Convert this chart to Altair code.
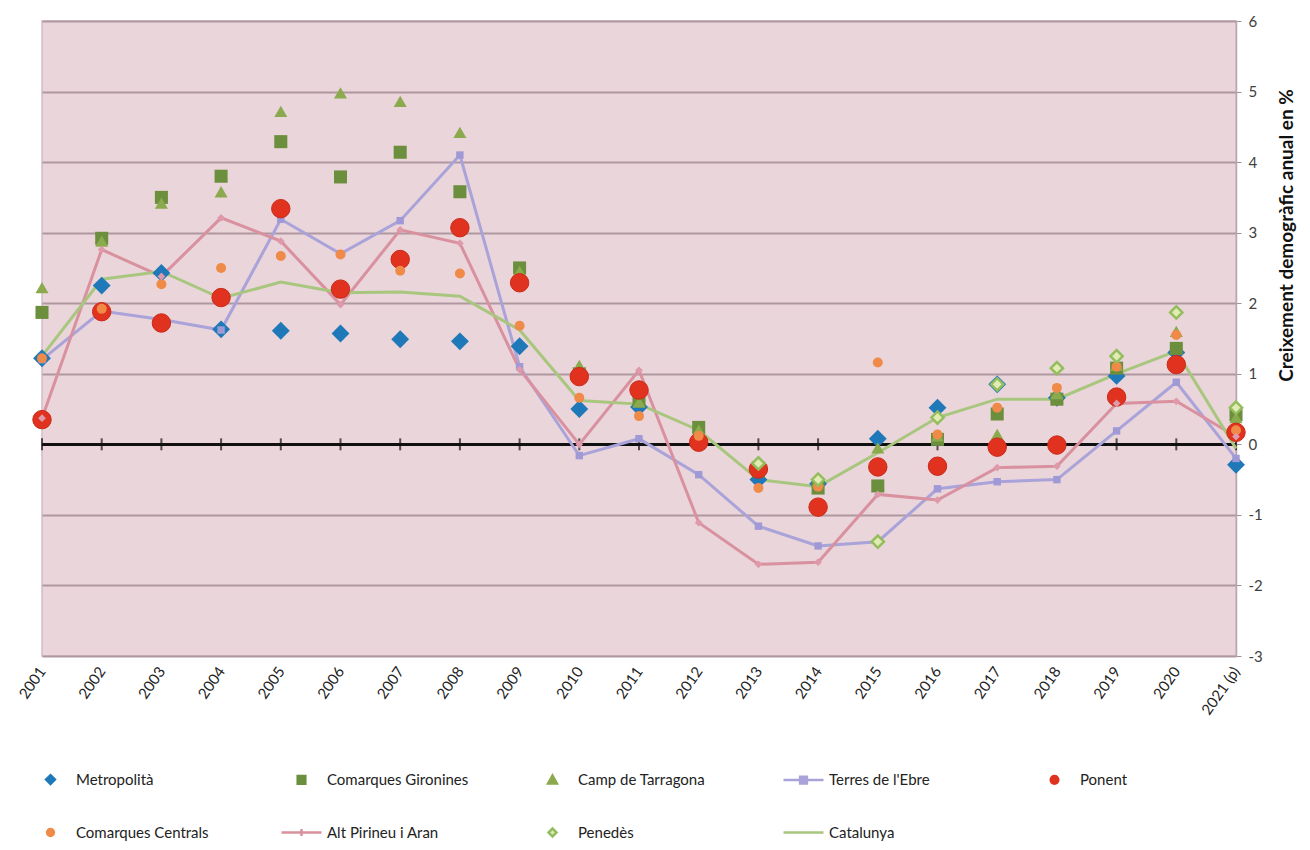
import altair as alt
import pandas as pd

years = ["2001", "2002", "2003", "2004", "2005", "2006", "2007", "2008", "2009", "2010",
         "2011", "2012", "2013", "2014", "2015", "2016", "2017", "2018", "2019", "2020", "2021 (p)"]

series_names = ["Metropolità", "Comarques Gironines", "Camp de Tarragona", "Terres de l'Ebre",
                "Ponent", "Comarques Centrals", "Alt Pirineu i Aran", "Penedès", "Catalunya"]

metropolita = [1.22, 2.25, 2.43, 1.63, 1.61, 1.57, 1.49, 1.46, 1.39, 0.50, 0.53, 0.05, -0.50, -0.56, 0.08, 0.52, 0.85, 0.66, 0.97, 1.30, -0.29]
gironines = [1.87, 2.92, 3.50, 3.80, 4.29, 3.79, 4.14, 3.58, 2.50, 1.00, 0.62, 0.24, -0.38, -0.62, -0.59, 0.07, 0.43, 0.64, 1.08, 1.36, 0.42]
camp = [2.22, 2.88, 3.42, 3.58, 4.72, 4.98, 4.86, 4.42, 2.45, 1.12, 0.60, 0.20, -0.28, -0.52, -0.05, 0.12, 0.14, 0.72, 1.12, 1.60, 0.38]
terres = [1.20, 1.89, 1.77, 1.62, 3.19, 2.70, 3.17, 4.10, 1.10, -0.16, 0.08, -0.43, -1.16, -1.44, -1.38, -0.63, -0.53, -0.50, 0.19, 0.88, -0.20]
ponent = [0.35, 1.88, 1.72, 2.08, 3.34, 2.20, 2.62, 3.07, 2.29, 0.96, 0.77, 0.03, -0.35, -0.89, -0.32, -0.31, -0.04, -0.01, 0.67, 1.13, 0.17]
centrals = [1.22, 1.92, 2.27, 2.50, 2.67, 2.69, 2.46, 2.42, 1.68, 0.66, 0.40, 0.12, -0.62, -0.60, 1.16, 0.14, 0.52, 0.80, 1.10, 1.55, 0.20]
altpirineu = [0.37, 2.76, 2.38, 3.21, 2.88, 1.98, 3.04, 2.85, 1.06, 0.00, 1.05, -1.11, -1.70, -1.67, -0.71, -0.79, -0.33, -0.31, 0.58, 0.61, 0.11]
penedes = [None, None, None, None, None, None, None, None, None, None, None, None,
           -0.27, -0.50, -1.38, 0.38, 0.85, 1.08, 1.25, 1.87, 0.52]
catalunya = [1.25, 2.34, 2.45, 2.07, 2.30, 2.15, 2.16, 2.10, 1.62, 0.62, 0.57, 0.20, -0.50, -0.60, -0.12, 0.38, 0.64, 0.64, 1.00, 1.32, -0.06]

y_ticks = [-3, -2, -1, 0, 1, 2, 3, 4, 5, 6]

all_values = [metropolita, gironines, camp, terres, ponent, centrals, altpirineu, penedes, catalunya]

rows = []
for name, vals in zip(series_names, all_values):
    for yr, v in zip(years, vals):
        rows.append({"year": yr, "series": name, "value": v})
df = pd.DataFrame(rows)
df_years = pd.DataFrame({"year": years})

FONT = "Lato"

# colours
C_METRO = "#1F78B8"
C_GIR = "#6B8F3C"
C_CAMP = "#8BAA4E"
C_TERRES = "#A9A3D9"
C_PONENT = "#E0321F"
C_CENTR = "#EF8A48"
C_ALT = "#D9919F"
C_PEN_FILL = "#E3EBB4"
C_PEN_STROKE = "#94BE5E"
C_CAT = "#A9C67E"

x_scale = alt.Scale(type="point", domain=years, padding=0)
x_axis = alt.Axis(orient="bottom", domain=False, ticks=False, grid=False,
                  labelAngle=-55, labelAlign="right", labelBaseline="middle",
                  labelPadding=12, labelFont=FONT, labelFontSize=15,
                  labelColor="#222222", title=None)
x_enc = alt.X("year:N", scale=x_scale, axis=x_axis)

y_scale = alt.Scale(domain=[-3, 6], nice=False, zero=False)
y_axis = alt.Axis(orient="right", values=y_ticks, grid=True, gridColor="#AF97A0",
                  gridWidth=2, domainColor="#B8A7AD", domainWidth=1.5,
                  tickColor="#A09097", tickSize=5, labelPadding=7,
                  labelExpr="'' + datum.value",
                  labelFont=FONT, labelFontSize=15, labelColor="#404040",
                  title="Creixement demogràfic anual en %", titleFont=FONT,
                  titleFontSize=19, titleFontWeight="bold", titleColor="#111111",
                  titleAngle=270, titlePadding=34, titleY=214)
y_enc = alt.Y("value:Q", scale=y_scale, axis=y_axis)
y_zero = alt.Y("zero:Q", scale=y_scale, axis=y_axis)

base = alt.Chart(df)

# zero axis line with cross ticks
zero_base = alt.Chart(df_years).transform_calculate(zero="0")
zero_rule = zero_base.mark_rule(color="#111111", strokeWidth=2).encode(y=y_zero)
zero_ticks = zero_base.mark_tick(color="#111111", orient="vertical", size=12, thickness=2).encode(
    x=x_enc, y=y_zero
)


def sel(name):
    return base.transform_filter(alt.datum.series == name)


lines = [
    sel("Terres de l'Ebre").mark_line(color=C_TERRES, strokeWidth=3).encode(x=x_enc, y=y_enc),
    sel("Alt Pirineu i Aran").mark_line(color=C_ALT, strokeWidth=3).encode(x=x_enc, y=y_enc),
    sel("Catalunya").mark_line(color=C_CAT, strokeWidth=3).encode(x=x_enc, y=y_enc),
]

points = [
    sel("Metropolità").mark_point(filled=True, shape="diamond", size=320, color=C_METRO, opacity=1).encode(x=x_enc, y=y_enc),
    sel("Comarques Gironines").mark_point(filled=True, shape="square", size=170, color=C_GIR, opacity=1).encode(x=x_enc, y=y_enc),
    sel("Camp de Tarragona").mark_point(filled=True, shape="triangle-up", size=170, color=C_CAMP, opacity=1).encode(x=x_enc, y=y_enc),
    sel("Terres de l'Ebre").mark_point(filled=True, shape="square", size=55, color="#9F99D6", opacity=1).encode(x=x_enc, y=y_enc),
    sel("Ponent").mark_point(filled=True, shape="circle", size=340, fill=C_PONENT, stroke="#C92A18", strokeWidth=1, opacity=1).encode(x=x_enc, y=y_enc),
    sel("Comarques Centrals").mark_point(filled=True, shape="circle", size=100, color=C_CENTR, opacity=1).encode(x=x_enc, y=y_enc),
    sel("Alt Pirineu i Aran").mark_point(filled=True, shape="diamond", size=60, color="#DE9AAA", opacity=1).encode(x=x_enc, y=y_enc),
    sel("Penedès").mark_point(filled=True, shape="diamond", size=150, fill=C_PEN_FILL, stroke=C_PEN_STROKE, strokeWidth=2.5, opacity=1).encode(x=x_enc, y=y_enc),
]

# legend (driven by scales over the series names)
leg_shapes = [
    "M0,-0.22L0.22,0L0,0.22L-0.22,0Z",
    "M-0.19,-0.19H0.19V0.19H-0.19Z",
    "M0,-0.22L0.22,0.18L-0.22,0.18Z",
    "M-1,0H1M-0.17,-0.17H0.17V0.17H-0.17Z",
    "M-0.19,0A0.19,0.19 0 1,0 0.19,0A0.19,0.19 0 1,0 -0.19,0Z",
    "M-0.17,0A0.17,0.17 0 1,0 0.17,0A0.17,0.17 0 1,0 -0.17,0Z",
    "M-1,0H1M0,-0.18V0.18",
    "M0,-0.2L0.2,0L0,0.2L-0.2,0Z",
    "M-1,0H1",
]
leg_fills = [C_METRO, C_GIR, C_CAMP, C_TERRES, C_PONENT, C_CENTR, C_ALT, C_PEN_FILL, C_CAT]
leg_strokes = [C_METRO, C_GIR, C_CAMP, C_TERRES, C_PONENT, C_CENTR, C_ALT, C_PEN_STROKE, C_CAT]

legend = alt.Legend(title=None, orient="none", legendX=-13, legendY=737, columns=5,
                    direction="horizontal",
                    gridAlign="all", columnPadding=58, rowPadding=22,
                    labelFont=FONT, labelFontSize=15, labelColor="#222222",
                    labelOffset=4, symbolSize=1600, symbolStrokeWidth=2.5,
                    labelLimit=300)

legend_layer = base.transform_filter("datum.value > 100").mark_point(
    filled=True, size=1600, strokeWidth=2.5, opacity=1
).encode(
    x=x_enc, y=y_enc,
    fill=alt.Fill("series:N", scale=alt.Scale(domain=series_names, range=leg_fills), legend=legend),
    stroke=alt.Stroke("series:N", scale=alt.Scale(domain=series_names, range=leg_strokes), legend=legend),
    shape=alt.Shape("series:N", scale=alt.Scale(domain=series_names, range=leg_shapes), legend=legend),
)

chart = alt.layer(zero_rule, zero_ticks, *lines, *points, legend_layer).properties(
    width=1194, height=635,
    autosize=alt.AutoSizeParams(type="none"),
    padding={"left": 34, "top": 13, "right": 66, "bottom": 186},
    background="white",
    view=alt.ViewBackground(fill="#EAD5DA", stroke="#D5BCC4", strokeWidth=1.5),
)

chart.save("out.html", embed_options={"renderer": "svg", "actions": False})
